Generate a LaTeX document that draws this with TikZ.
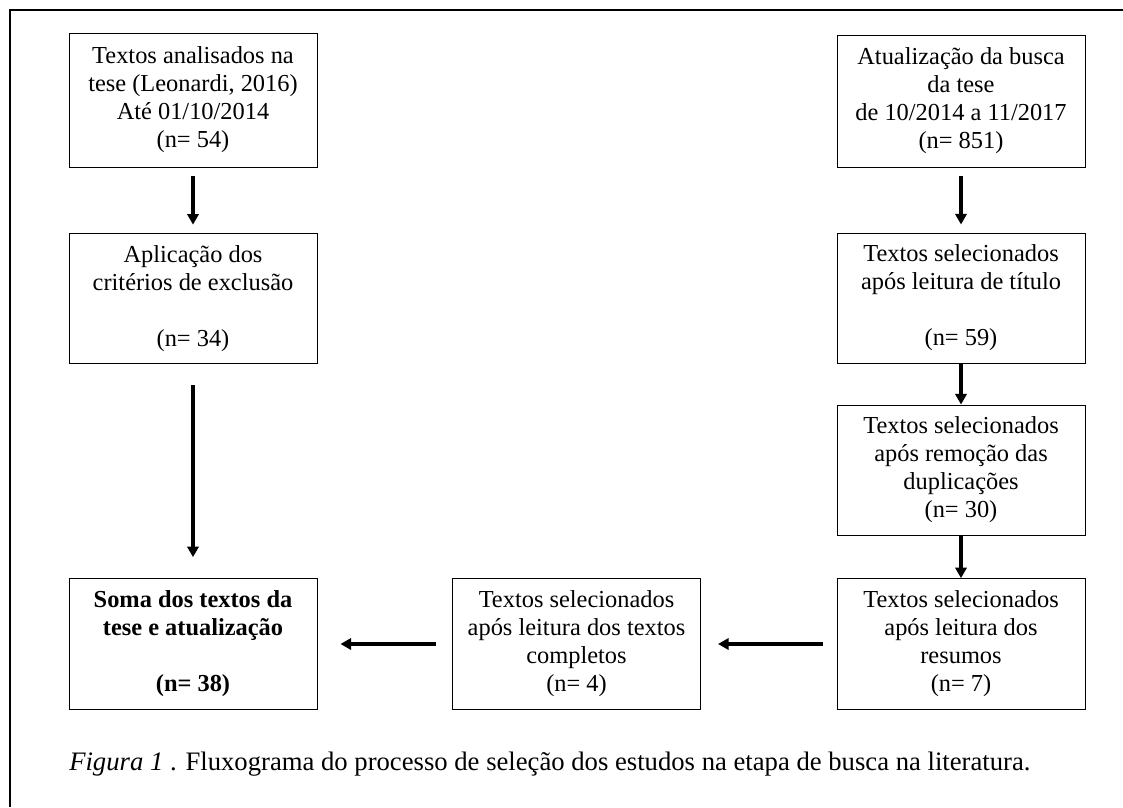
\documentclass[tikz,border=0pt]{standalone}
\usepackage{fontspec}
\setmainfont{Liberation Serif}
\usetikzlibrary{arrows.meta}

\tikzset{
  caixa/.style={draw, line width=0.75pt, align=center, minimum width=186pt,
    minimum height=98pt, inner sep=0pt, font=\fontsize{18.3}{21}\selectfont},
  seta/.style={->, line width=2.4pt},
}

\begin{document}
\begin{tikzpicture}[x=0.75pt, y=-0.75pt, >={Triangle[length=8pt,width=8.5pt]}]

  \useasboundingbox (0,0) rectangle (1123,807);

  % Frame
  \draw[line width=1.6pt] (10,807) -- (10,10) -- (1123,10);

  % Left column
  \node[caixa, minimum height=100.5pt] (tese) at (193,100)
    {Textos analisados na\\ tese (Leonardi, 2016)\\ Até 01/10/2014\\ (n= 54)};
  \node[caixa] (exclusao) at (193,298.5)
    {Aplicação dos\\ critérios de exclusão\\[21pt] (n= 34)};
  \node[caixa, font=\fontsize{18.3}{21}\selectfont\bfseries] (soma) at (193,644)
    {Soma dos textos da\\ tese e atualização\\[21pt] (n= 38)};

  % Right column
  \node[caixa, minimum height=99pt] (busca) at (961,101)
    {Atualização da busca\\ da tese\\ de 10/2014 a 11/2017\\ (n= 851)};
  \node[caixa, minimum height=97.5pt] (titulo) at (961,298)
    {Textos selecionados\\ após leitura de título\\[21pt] (n= 59)};
  \node[caixa, minimum height=97.5pt] (duplicacoes) at (961,470)
    {Textos selecionados\\ após remoção das\\ duplicações\\ (n= 30)};
  \node[caixa] (resumos) at (961,644)
    {Textos selecionados\\ após leitura dos\\ resumos\\ (n= 7)};

  % Middle
  \node[caixa] (completos) at (576.5,644)
    {Textos selecionados\\ após leitura dos textos\\ completos\\ (n= 4)};

  % Arrows
  \draw[seta, shorten <=6pt, shorten >=6pt] (tese) -- (exclusao);
  \draw[seta, shorten <=15.75pt, shorten >=15.75pt] (exclusao) -- (soma);
  \draw[seta, shorten <=6pt, shorten >=6pt] (busca) -- (titulo);
  \draw[seta] (titulo) -- (duplicacoes);
  \draw[seta] (duplicacoes) -- (resumos);
  \draw[seta, shorten <=10.5pt, shorten >=12.75pt] (resumos) -- (completos);
  \draw[seta, shorten <=12pt, shorten >=17.25pt] (completos) -- (soma);

  % Caption
  \node[anchor=base west, inner sep=0pt, font=\fontsize{20}{23}\selectfont] (legenda) at (69,770)
    {\textit{Figura 1} . Fluxograma do processo de seleção dos estudos na etapa de busca na literatura.};

\end{tikzpicture}
\end{document}
